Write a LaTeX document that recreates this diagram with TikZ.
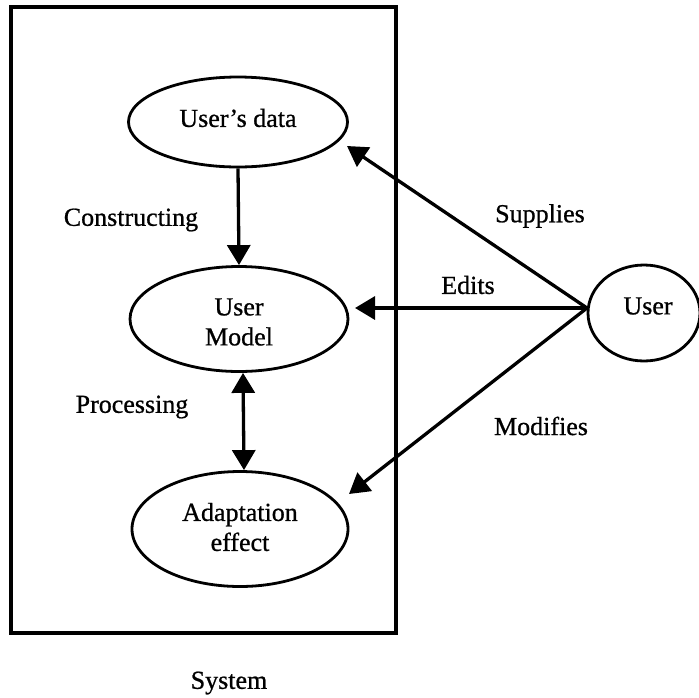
\documentclass[tikz,border=0pt]{standalone}
\usepackage{fontspec}
\setmainfont{Liberation Serif}[FakeBold=0.8]
\usetikzlibrary{arrows.meta,shapes.geometric}
\begin{document}
\begin{tikzpicture}[x=1pt,y=-1pt,
  every node/.style={font=\fontsize{26}{30}\selectfont, align=center},
  oval/.style={draw, line width=2.8pt, ellipse, inner sep=0pt},
  head/.tip={Triangle[length=20pt,width=23pt]},
  link/.style={line width=3.3pt, -head},
  twoway/.style={line width=3.3pt, head-head},
  lbl/.style={inner sep=0pt}]
\useasboundingbox (0,0) rectangle (699,697);
% system boundary
\draw[line width=3.3pt] (11,7) rectangle (396,633);
% nodes inside the system
\node[oval, minimum width=219pt, minimum height=90pt] (ud) at (238,122) {};
\node[lbl] at (238,118) {User’s data};
\node[oval, minimum width=218pt, minimum height=105pt] (um) at (239,319) {};
\node[lbl] at (239,322) {User\\Model};
\node[oval, minimum width=216pt, minimum height=115pt] (ae) at (240,529) {};
\node[lbl] at (240,527) {Adaptation\\effect};
% the user
\node[oval, minimum width=112pt, minimum height=96pt] (usr) at (644,313) {};
\node[lbl] at (648,306) {User};
% arrow ends near the system nodes
\coordinate (supTip) at (347,146);
\coordinate (ediTip) at (355,308);
\coordinate (modTip) at (349,494);
\coordinate (usrIn) at (587,308);
% connectors
\draw[link] (ud.south) -- (um.north);
\draw[twoway] ([xshift=4pt]um.south) -- ([xshift=4pt]ae.north);
\draw[link] (usrIn) -- (supTip);
\draw[link] (usrIn) -- (ediTip);
\draw[link] (usrIn) -- (modTip);
% labels
\node[lbl] at (131,220) {Constructing};
\node[lbl] at (132,407) {Processing};
\node[lbl] at (540,216) {Supplies};
\node[lbl] at (468,285) {Edits};
\node[lbl] at (541,426) {Modifies};
\node[lbl] at (229,683) {System};
\end{tikzpicture}
\end{document}
